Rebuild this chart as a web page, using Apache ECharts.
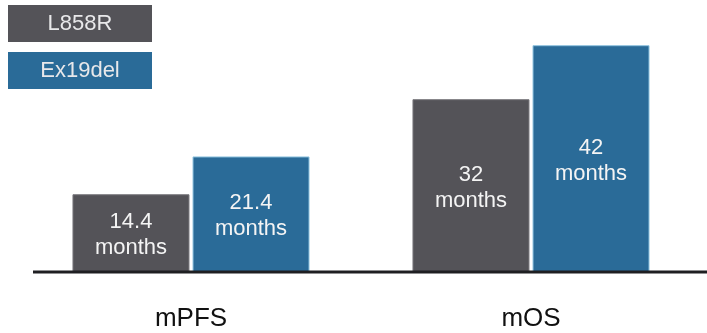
<!DOCTYPE html>
<html>
<head>
<meta charset="utf-8">
<script src="https://cdn.jsdelivr.net/npm/echarts@6/dist/echarts.min.js"></script>
<style>
  html, body { margin: 0; padding: 0; background: #ffffff; }
  #chart { width: 707px; height: 333px; }
</style>
</head>
<body>
<div id="chart"></div>
<script>
// Median survival by EGFR mutation type (months)
const categories = ['mPFS', 'mOS'];
const seriesNames = ['L858R', 'Ex19del'];
const l858rValues = [14.4, 32];
const ex19delValues = [21.4, 42];
const unit = 'months';

const GRAY = '#545358';
const BLUE = '#2a6b98';
const FONT = '"Liberation Sans", Arial, sans-serif';

const chart = echarts.init(document.getElementById('chart'), null, { renderer: 'canvas' });

function legendItem(name, color) {
  return {
    name: name,
    icon: 'none',
    textStyle: {
      rich: {
        box: {
          width: 144,
          height: 37,
          lineHeight: 37,
          align: 'center',
          backgroundColor: color,
          color: '#e8e8ea',
          fontSize: 22,
          fontFamily: FONT
        }
      }
    }
  };
}

const barLabel = {
  show: true,
  position: 'inside',
  offset: [0, 2],
  color: '#f4f4f4',
  fontSize: 22,
  lineHeight: 26,
  fontFamily: FONT,
  formatter: p => p.value + '\n' + unit
};

chart.setOption({
  animation: false,
  backgroundColor: '#ffffff',
  textStyle: { fontFamily: FONT },
  legend: {
    orient: 'vertical',
    left: 3,
    top: 5,
    padding: 0,
    itemGap: 10,
    itemWidth: 0,
    itemHeight: 37,
    selectedMode: false,
    formatter: '{box|{name}}',
    data: [legendItem(seriesNames[0], GRAY), legendItem(seriesNames[1], BLUE)]
  },
  grid: { left: 21, right: 6, top: 2, bottom: 61 },
  xAxis: {
    type: 'category',
    data: categories,
    axisLine: { show: false },
    axisTick: { show: false },
    axisLabel: {
      color: '#111111',
      fontSize: 26,
      fontFamily: FONT,
      margin: 34
    }
  },
  yAxis: {
    type: 'value',
    min: 0,
    max: 50,
    show: false,
    splitLine: { show: false }
  },
  series: [
    {
      name: seriesNames[0],
      type: 'bar',
      data: l858rValues,
      barWidth: 117,
      barGap: '2.6%',
      itemStyle: { color: GRAY, borderColor: '#77767b', borderWidth: 1 },
      label: barLabel
    },
    {
      name: seriesNames[1],
      type: 'bar',
      data: ex19delValues,
      barWidth: 117,
      itemStyle: { color: BLUE, borderColor: '#8fc3df', borderWidth: 1 },
      label: barLabel
    }
  ]
});

// Baseline rule under the bars, placed at the axis zero
const baseY = chart.convertToPixel({ yAxisIndex: 0 }, 0);
chart.setOption({
  graphic: [{
    type: 'line',
    z: 10,
    shape: { x1: 33, y1: baseY, x2: 707, y2: baseY },
    style: { stroke: '#1f1f22', lineWidth: 3 }
  }]
});
</script>
</body>
</html>
